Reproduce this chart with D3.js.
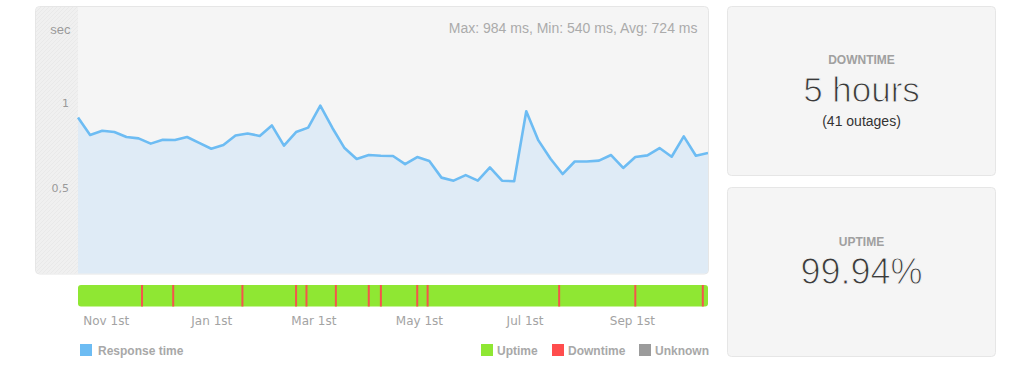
<!DOCTYPE html>
<meta charset="utf-8">
<title>response time</title>
<style>
body {
  margin: 0px;
  background: #fff;
}
svg {
  display: block;
  font-family: "Liberation Sans", Arial, sans-serif;
}
.panel {
  fill: #f5f5f5;
  stroke: #e6e6e6;
}
.xaxis text {
  font-family: "DejaVu Sans", sans-serif;
  font-size: 12px;
  fill: #a3a3a3;
}
.yaxis text {
  font-family: "DejaVu Sans", sans-serif;
  font-size: 11px;
  fill: #9a9a9a;
}
.legend text {
  font-size: 12px;
  font-weight: bold;
  fill: #a8a8a8;
}
</style>
<script src="https://cdn.jsdelivr.net/npm/d3@7"></script>
<body>
<script>

// Chart size
var width = 1024, height = 375;

// Weekly response time in seconds, first week starts on startDate
var startDate = "2016-10-16";
var responseTime = [
  0.915, 0.812, 0.837, 0.829, 0.800, 0.792, 0.761, 0.784, 0.782, 0.800,
  0.765, 0.731, 0.753, 0.809, 0.821, 0.806, 0.868, 0.749, 0.829, 0.855,
  0.984, 0.853, 0.735, 0.671, 0.694, 0.690, 0.688, 0.640, 0.682, 0.659,
  0.561, 0.543, 0.576, 0.543, 0.621, 0.543, 0.540, 0.951, 0.780, 0.672,
  0.582, 0.656, 0.656, 0.661, 0.694, 0.618, 0.682, 0.692, 0.735, 0.684,
  0.804, 0.690, 0.706
];

// Days with an outage (red marks on the uptime bar)
var outageDays = [
  "2016-11-22", "2016-12-10", "2017-01-19", "2017-02-19", "2017-02-25",
  "2017-03-14", "2017-04-02", "2017-04-09", "2017-04-30", "2017-05-06",
  "2017-07-21", "2017-09-03", "2017-10-12"
];

// Axis ticks
var monthTicks = ["2016-11-01", "2017-01-01", "2017-03-01", "2017-05-01", "2017-07-01", "2017-09-01"];
var yTicks = [0.5, 1];

// Summary numbers
var statNames = ["Max", "Min", "Avg"];
var statValues = [984, 540, 724];

// Legends
var legendLeft = ["Response time"];
var legendRight = ["Uptime", "Downtime", "Unknown"];

// Right hand boxes
var boxTitles = ["DOWNTIME", "UPTIME"];
var boxValues = ["5 hours", "99.94%"];
var boxNotes = ["(41 outages)", ""];

var colLine = "#6dbcf3", colArea = "#dfebf6";
var colUp = "#8fe733", colDown = "#f5544c", colUnknown = "#9b9b9b";

var parse = d3.timeParse("%Y-%m-%d");
var start = parse(startDate);
var dates = responseTime.map(function(d, i) { return d3.timeDay.offset(start, 7 * i); });

var svg = d3.select("body").append("svg")
    .attr("width", width)
    .attr("height", height);

var defs = svg.append("defs");
var pat = defs.append("pattern")
    .attr("id", "hatch")
    .attr("width", 4).attr("height", 4)
    .attr("patternUnits", "userSpaceOnUse");
pat.append("rect").attr("width", 4).attr("height", 4).attr("fill", "#f0f0f0");
pat.append("path").attr("d", "M0,4L4,0").attr("stroke", "#e9e9e9").attr("stroke-width", 1);

// Scales
var x = d3.scaleTime()
    .domain([start, dates[dates.length - 1]])
    .range([78, 708]);
var y = d3.scaleLinear()
    .domain([0, 1.5])
    .range([273, 18]);

// Chart panel
svg.append("rect")
  .attr("class", "panel")
  .attr("x", 35.5).attr("y", 6.5)
  .attr("width", 673).attr("height", 267.5)
  .attr("rx", 4);

defs.append("clipPath").attr("id", "panelclip")
  .append("rect")
  .attr("x", 36).attr("y", 7)
  .attr("width", 672).attr("height", 266.5)
  .attr("rx", 3.5);

var inner = svg.append("g").attr("clip-path", "url(#panelclip)");

inner.append("rect")
  .attr("x", 36).attr("y", 7)
  .attr("width", 78 - 36).attr("height", 267)
  .attr("fill", "url(#hatch)");

var area = d3.area()
    .x(function(d, i) { return x(dates[i]); })
    .y0(y(0) + 1)
    .y1(function(d) { return y(d); });
var line = d3.line()
    .x(function(d, i) { return x(dates[i]); })
    .y(function(d) { return y(d); });

inner.append("path")
  .datum(responseTime)
  .attr("fill", colArea)
  .attr("d", area);

inner.append("path")
  .datum(responseTime)
  .attr("fill", "none")
  .attr("stroke", colLine)
  .attr("stroke-width", 2.6)
  .attr("stroke-linejoin", "round")
  .attr("d", line);

// Y axis
var loc = d3.formatLocale({ decimal: ",", thousands: ".", grouping: [3], currency: ["", ""] });
var fmt = loc.format("~g");
var yAxis = svg.append("g")
  .attr("class", "yaxis")
  .attr("transform", "translate(78,0)")
  .call(d3.axisLeft(y).tickValues(yTicks).tickSize(0).tickPadding(9).tickFormat(fmt));
yAxis.select(".domain").remove();

svg.append("text")
  .attr("x", 70.5).attr("y", 33.5)
  .attr("text-anchor", "end")
  .style("font-size", "13px")
  .attr("fill", "#9a9a9a")
  .text("sec");

// Stats line
svg.append("text")
  .attr("x", 697.5).attr("y", 33)
  .attr("text-anchor", "end")
  .style("font-size", "14px")
  .attr("fill", "#ababab")
  .text(statNames.map(function(n, i) { return n + ": " + statValues[i] + " ms"; }).join(", "));

// Uptime bar
var barY = 285, barH = 21.5;
svg.append("rect")
  .attr("x", x.range()[0]).attr("y", barY)
  .attr("width", x.range()[1] - x.range()[0]).attr("height", barH)
  .attr("rx", 3)
  .attr("fill", colUp);

svg.selectAll("line.outage")
    .data(outageDays)
  .enter().append("line")
    .attr("class", "outage")
    .attr("x1", function(d) { return x(parse(d)); })
    .attr("x2", function(d) { return x(parse(d)); })
    .attr("y1", barY).attr("y2", barY + barH)
    .attr("stroke", colDown)
    .attr("stroke-width", 2);

// X axis (month labels)
var xAxis = svg.append("g")
  .attr("class", "xaxis")
  .attr("transform", "translate(0,310)")
  .call(d3.axisBottom(x)
    .tickValues(monthTicks.map(parse))
    .tickSize(0)
    .tickPadding(6)
    .tickFormat(d3.timeFormat("%b 1st")));
xAxis.select(".domain").remove();

// Legends
var legL = svg.append("g").attr("class", "legend");
legL.selectAll("rect")
    .data(legendLeft)
  .enter().append("rect")
    .attr("x", 80).attr("y", 344)
    .attr("width", 12).attr("height", 12)
    .attr("fill", colLine);
legL.selectAll("text")
    .data(legendLeft)
  .enter().append("text")
    .attr("x", 98).attr("y", 354.5)
    .text(function(d) { return d; });

var legendX = [481, 552, 639];
var legendCol = [colUp, "#ff4d4d", colUnknown];
var legR = svg.append("g").attr("class", "legend");
legR.selectAll("rect")
    .data(legendRight)
  .enter().append("rect")
    .attr("x", function(d, i) { return legendX[i]; })
    .attr("y", 344)
    .attr("width", 12).attr("height", 12)
    .attr("fill", function(d, i) { return legendCol[i]; });
legR.selectAll("text")
    .data(legendRight)
  .enter().append("text")
    .attr("x", function(d, i) { return legendX[i] + 16; })
    .attr("y", 354.5)
    .text(function(d) { return d; });

// Right boxes
var boxY = [6.5, 187.5];
var boxes = svg.selectAll("g.box")
    .data(boxTitles)
  .enter().append("g")
    .attr("class", "box")
    .attr("transform", function(d, i) { return "translate(727.5," + boxY[i] + ")"; });

boxes.append("rect")
  .attr("class", "panel")
  .attr("width", 268).attr("height", 169)
  .attr("rx", 4);

boxes.append("text")
  .attr("x", 134).attr("y", function(d, i) { return i == 0 ? 57.8 : 58.2; })
  .attr("text-anchor", "middle")
  .style("font-size", "12px")
  .style("font-weight", "bold")
  .attr("fill", "#a0a0a0")
  .text(function(d) { return d; });

// big numbers: thin the regular face with a background-coloured stroke (light look)
boxes.append("text")
  .attr("x", 134).attr("y", function(d, i) { return i == 0 ? 95.2 : 96.8; })
  .attr("text-anchor", "middle")
  .style("font-size", function(d, i) { return i == 0 ? "35px" : "36px"; })
  .attr("fill", "#3a3a3a")
  .attr("stroke", "#f5f5f5")
  .attr("stroke-width", 1)
  .text(function(d, i) { return boxValues[i]; });

boxes.append("text")
  .attr("x", 134).attr("y", 119.2)
  .attr("text-anchor", "middle")
  .style("font-size", "14px")
  .attr("fill", "#333")
  .text(function(d, i) { return boxNotes[i]; });

</script>
